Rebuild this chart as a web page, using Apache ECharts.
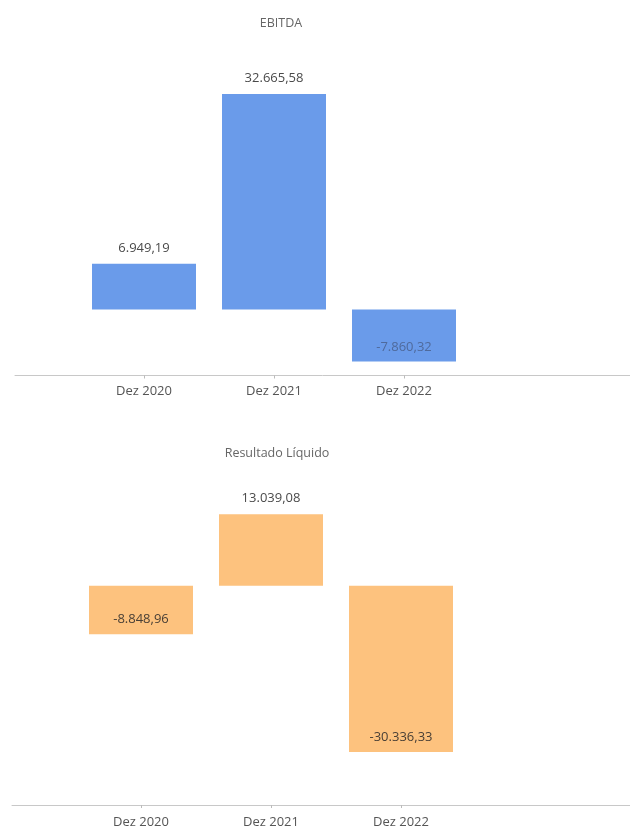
<!DOCTYPE html>
<html>
<head>
<meta charset="utf-8">
<script src="https://cdn.jsdelivr.net/npm/echarts@6/dist/echarts.min.js"></script>
<style>
html,body{margin:0;padding:0;background:#fff;}
#c{width:630px;height:835px;}
</style>
</head>
<body>
<div id="c"></div>
<script>
const categories = ['Dez 2020', 'Dez 2021', 'Dez 2022'];
const ebitdaValues = [6949.19, 32665.58, -7860.32];
const resultadoValues = [-8848.96, 13039.08, -30336.33];
const titles = ['EBITDA', 'Resultado Líquido'];

function fmtBR(v) {
  const neg = v < 0;
  const parts = Math.abs(v).toFixed(2).split('.');
  const intPart = parts[0].replace(/\B(?=(\d{3})+(?!\d))/g, '.');
  return (neg ? '-' : '') + intPart + ',' + parts[1];
}

const FONT = '"Open Sans", "DejaVu Sans", sans-serif';

function items(values, insideColor, insideDist) {
  return values.map(v => ({
    value: v,
    label: v >= 0
      ? { position: 'top', distance: 9, color: '#4a4a4a' }
      : { position: 'insideBottom', distance: insideDist, color: insideColor }
  }));
}

const chart = echarts.init(document.getElementById('c'), null, { renderer: 'canvas' });

function catAxis(grid, margin) {
  return {
    gridIndex: grid,
    type: 'category',
    data: categories,
    position: 'bottom',
    axisLine: { show: false, onZero: false },
    axisTick: { show: true, alignWithLabel: true, length: 3, lineStyle: { color: '#bbb' } },
    axisLabel: { color: '#555', fontSize: 13, fontFamily: FONT, margin: margin }
  };
}
function lineAxis(grid) {
  return {
    gridIndex: grid,
    type: 'value',
    position: 'bottom',
    min: 0, max: 1,
    axisLine: { show: true, onZero: false, lineStyle: { color: '#c8c8c8', width: 1 } },
    axisTick: { show: false },
    axisLabel: { show: false },
    splitLine: { show: false }
  };
}

const option = {
  backgroundColor: '#fff',
  animation: false,
  title: [
    { text: titles[0], left: 276, top: 12, textAlign: 'center',
      textStyle: { color: '#666', fontSize: 12.5, fontWeight: 'normal', fontFamily: FONT } },
    { text: titles[1], left: 272, top: 442, textAlign: 'center',
      textStyle: { color: '#666', fontSize: 12.5, fontWeight: 'normal', fontFamily: FONT } }
  ],
  grid: [
    { left: 79, width: 390, top: 78.5, bottom: 459.5 },
    { left: 15, right: 0, top: 78.5, bottom: 459.5 },
    { left: 76, width: 390, top: 476, bottom: 30 },
    { left: 12, right: 0, top: 476, bottom: 30 }
  ],
  xAxis: [catAxis(0, 9), lineAxis(1), catAxis(2, 11), lineAxis(3)],
  yAxis: [
    { gridIndex: 0, type: 'value', min: -10000, max: 35000, show: false, splitLine: { show: false } },
    { gridIndex: 1, type: 'value', min: 0, max: 1, show: false },
    { gridIndex: 2, type: 'value', min: -40000, max: 20000, show: false, splitLine: { show: false } },
    { gridIndex: 3, type: 'value', min: 0, max: 1, show: false }
  ],
  series: [
    {
      type: 'bar', xAxisIndex: 0, yAxisIndex: 0,
      data: items(ebitdaValues, '#4f6a9c', 8),
      barWidth: 104,
      itemStyle: { color: '#6a9bea' },
      label: { show: true, fontSize: 13, fontFamily: FONT, formatter: p => fmtBR(p.value) }
    },
    {
      type: 'bar', xAxisIndex: 2, yAxisIndex: 2,
      data: items(resultadoValues, '#4a4036', 8),
      barWidth: 104,
      itemStyle: { color: '#fdc27e' },
      label: { show: true, fontSize: 13, fontFamily: FONT, formatter: p => fmtBR(p.value) }
    }
  ]
};
chart.setOption(option);
</script>
</body>
</html>
